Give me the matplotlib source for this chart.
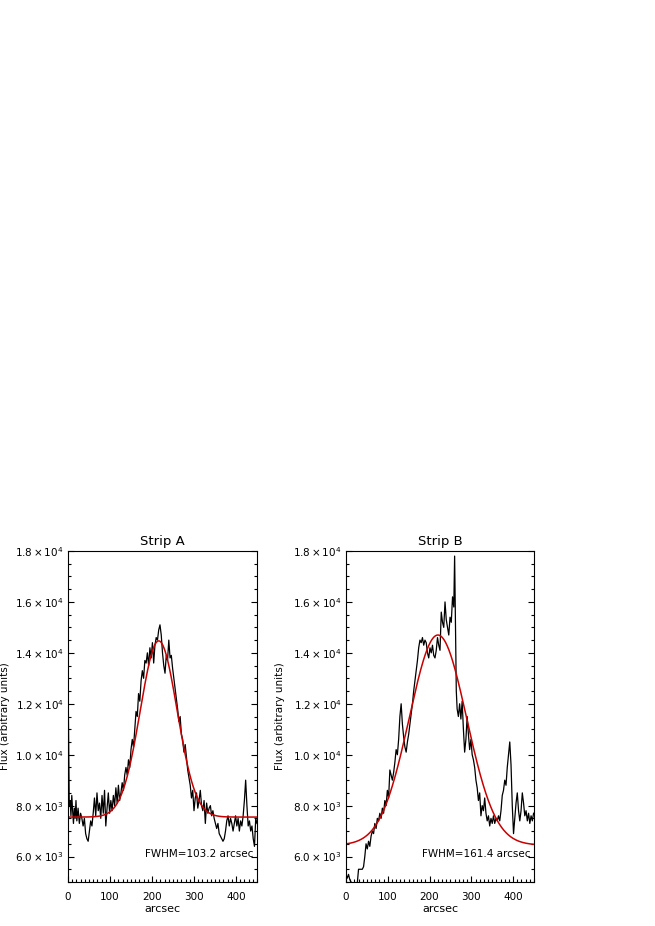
import numpy as np
import matplotlib
matplotlib.use("Agg")
import matplotlib.pyplot as plt
from matplotlib.ticker import FixedLocator, FixedFormatter, MultipleLocator

# Strip A profile (arcsec, flux)
xa = [0, 1, 2, 3, 5, 7, 9, 11, 13, 15, 17, 19, 21, 24, 27, 30, 33, 36, 39, 42,
      45, 48, 51, 54, 57, 60, 63, 66, 69, 72, 75, 78, 81, 84, 87, 90, 93, 96, 99, 102,
      105, 108, 111, 114, 117, 120, 123, 126, 129, 132, 135, 138, 141, 144, 147, 150, 153, 156, 159, 162,
      165, 168, 171, 174, 177, 180, 183, 186, 189, 192, 195, 198, 201, 204, 207, 210, 213, 216, 219, 222,
      225, 228, 231, 234, 237, 240, 243, 246, 249, 252, 255, 258, 261, 264, 267, 270, 273, 276, 279, 282,
      285, 288, 291, 294, 297, 300, 303, 306, 309, 312, 315, 318, 321, 324, 327, 330, 333, 336, 339, 342,
      345, 348, 351, 354, 357, 360, 363, 366, 369, 372, 375, 378, 381, 384, 387, 390, 393, 396, 399, 402,
      405, 408, 411, 414, 417, 420, 423, 426, 429, 432, 435, 438, 441, 444, 447, 450]
fa = [13000, 11500, 9500, 8000, 8200, 7600, 8400, 7800, 7300, 7900, 7500, 8200, 7400, 7900, 7300, 7700, 7500, 7200, 7500, 6900,
      6700, 6600, 7000, 7400, 7200, 7700, 8300, 7600, 8500, 7800, 8100, 7500, 8400, 7700, 8600, 7200, 7900, 8500, 7700, 8200,
      7800, 8400, 8000, 8700, 8100, 8800, 8200, 8500, 8900, 8600, 9200, 9500, 9200, 9800, 9500, 10200, 10600, 10300, 11000, 11700,
      11500, 12400, 12100, 12900, 13300, 13000, 13700, 13600, 14000, 13500, 14200, 13800, 14400, 13600, 14300, 14600, 14500, 14900, 15100, 14700,
      14000, 13500, 13200, 13900, 13700, 14500, 13800, 13900, 13400, 13000, 12600, 12200, 11800, 11300, 11500, 10800, 10600, 10100, 10400, 9900,
      9400, 9100, 8800, 8300, 8600, 7800, 8300, 8500, 7900, 8200, 8600, 8000, 7800, 8200, 7300, 8100, 7700, 7900, 8000, 7600,
      7800, 7500, 7300, 7100, 7300, 6900, 6800, 6700, 6600, 6700, 7000, 7400, 7600, 7200, 7500, 7300, 7000, 7300, 7600, 7200,
      7500, 7000, 7400, 7200, 7600, 8200, 9000, 8000, 7200, 7400, 7000, 7200, 6700, 6400, 7500, 7300]

# Strip B profile (arcsec, flux)
xb = [0, 3, 6, 9, 12, 15, 18, 21, 24, 27, 30, 33, 36, 39, 42, 45, 48, 51, 54, 57,
      60, 63, 66, 69, 72, 75, 78, 81, 84, 87, 90, 93, 96, 99, 102, 105, 108, 111, 114, 117,
      120, 123, 126, 129, 132, 135, 138, 141, 144, 147, 150, 153, 156, 159, 162, 165, 168, 171, 174, 177,
      180, 183, 186, 189, 192, 195, 198, 201, 204, 207, 210, 213, 216, 219, 222, 225, 228, 231, 234, 237,
      240, 243, 246, 249, 252, 255, 258, 260, 262, 264, 266, 269, 272, 275, 278, 281, 284, 287, 290, 293,
      296, 299, 302, 305, 308, 311, 314, 317, 320, 323, 326, 329, 332, 335, 338, 341, 344, 347, 350, 353,
      356, 359, 362, 365, 368, 371, 374, 377, 380, 383, 386, 389, 392, 395, 398, 401, 404, 407, 410, 413,
      416, 419, 422, 425, 428, 431, 434, 437, 440, 443, 446, 449]
fb = [5300, 5150, 5300, 5100, 5000, 4950, 4900, 4950, 4900, 4950, 5500, 5500, 5500, 5500, 5600, 6000, 6500, 6300, 6600, 6400,
      6800, 7000, 6900, 7300, 7100, 7500, 7400, 7700, 7500, 7900, 7700, 8200, 8000, 8600, 8300, 9400, 9200, 9000, 9300, 9700,
      10200, 10000, 10600, 11500, 12000, 11200, 10700, 10300, 10100, 10500, 10800, 11200, 11600, 12000, 12500, 12900, 13300, 13700, 14200, 14500,
      14400, 14600, 14300, 14500, 14400, 14000, 13800, 14200, 14000, 14300, 13900, 13800, 14100, 14600, 14300, 14100, 15600, 15200, 15000, 16000,
      15300, 15000, 14700, 15400, 15200, 16200, 15800, 17800, 15000, 12500, 11800, 11500, 12000, 11400, 12100, 11000, 10100, 10600, 11500, 10800,
      10200, 10600, 10000, 9800, 9500, 9000, 8700, 8200, 8500, 7600, 8000, 7800, 8300, 7700, 7400, 7600, 7200, 7500, 7300, 7600,
      7300, 7500, 7400, 7600, 7400, 7800, 8400, 8600, 9000, 8800, 9500, 10000, 10500, 9600, 8000, 6900, 7500, 8100, 8500, 7800,
      7400, 7800, 8500, 8100, 7600, 7800, 7400, 7700, 7300, 7600, 7400, 7700]

# Gaussian fit parameters: baseline, amplitude, centre, FWHM
fit_a = (7550, 6920, 216, 103.2)
fit_b = (6450, 8250, 220, 161.4)

titles = ["Strip A", "Strip B"]
fwhm_labels = ["FWHM=103.2 arcsec", "FWHM=161.4 arcsec"]
ytick_vals = [6000, 8000, 10000, 12000, 14000, 16000, 18000]
ytick_labels = [r"$6.0\times10^{3}$", r"$8.0\times10^{3}$", r"$1.0\times10^{4}$",
                r"$1.2\times10^{4}$", r"$1.4\times10^{4}$", r"$1.6\times10^{4}$",
                r"$1.8\times10^{4}$"]

plt.rcParams["font.family"] = "DejaVu Sans"
plt.rcParams["mathtext.fontset"] = "dejavusans"

fig = plt.figure(figsize=(6.55, 9.26), dpi=100)
ax1 = fig.add_axes([68 / 655, 1 - 882 / 926, 189 / 655, 331 / 926])
ax2 = fig.add_axes([346 / 655, 1 - 882 / 926, 188 / 655, 331 / 926])

xs = np.linspace(0, 450, 600)
for ax, x, f, fit, title, lab, ylx in [(ax1, xa, fa, fit_a, titles[0], fwhm_labels[0], -0.305),
                                       (ax2, xb, fb, fit_b, titles[1], fwhm_labels[1], -0.325)]:
    ax.plot(x, f, color="black", lw=0.9)
    base, amp, cen, fwhm = fit
    sig = fwhm / (2 * np.sqrt(2 * np.log(2)))
    ax.plot(xs, base + amp * np.exp(-0.5 * ((xs - cen) / sig) ** 2), color="#c80000", lw=1.1)
    ax.set_xlim(0, 450)
    ax.set_ylim(5000, 18000)
    ax.xaxis.set_major_locator(FixedLocator([0, 100, 200, 300, 400]))
    ax.xaxis.set_minor_locator(MultipleLocator(10))
    ax.yaxis.set_major_locator(FixedLocator(ytick_vals))
    ax.yaxis.set_major_formatter(FixedFormatter(ytick_labels))
    ax.yaxis.set_minor_locator(MultipleLocator(500))
    ax.tick_params(which="both", direction="in", top=False, right=True, labelsize=7.5)
    ax.tick_params(axis="y", pad=3)
    ax.tick_params(axis="x", pad=7)
    ax.tick_params(which="major", length=4.5, width=0.8)
    ax.tick_params(which="minor", length=2.5, width=0.8)
    for s in ax.spines.values():
        s.set_linewidth(0.8)
    ax.set_title(title, fontsize=9.5, pad=4)
    ax.set_xlabel("arcsec", fontsize=8, labelpad=2)
    ax.set_ylabel("Flux (arbitrary units)", fontsize=7.5)
    ax.yaxis.set_label_coords(ylx, 0.5)
    ax.text(0.98, 0.085, lab, transform=ax.transAxes, ha="right", va="center", fontsize=7.5)

fig.savefig("out.png", dpi=100, facecolor="white")
